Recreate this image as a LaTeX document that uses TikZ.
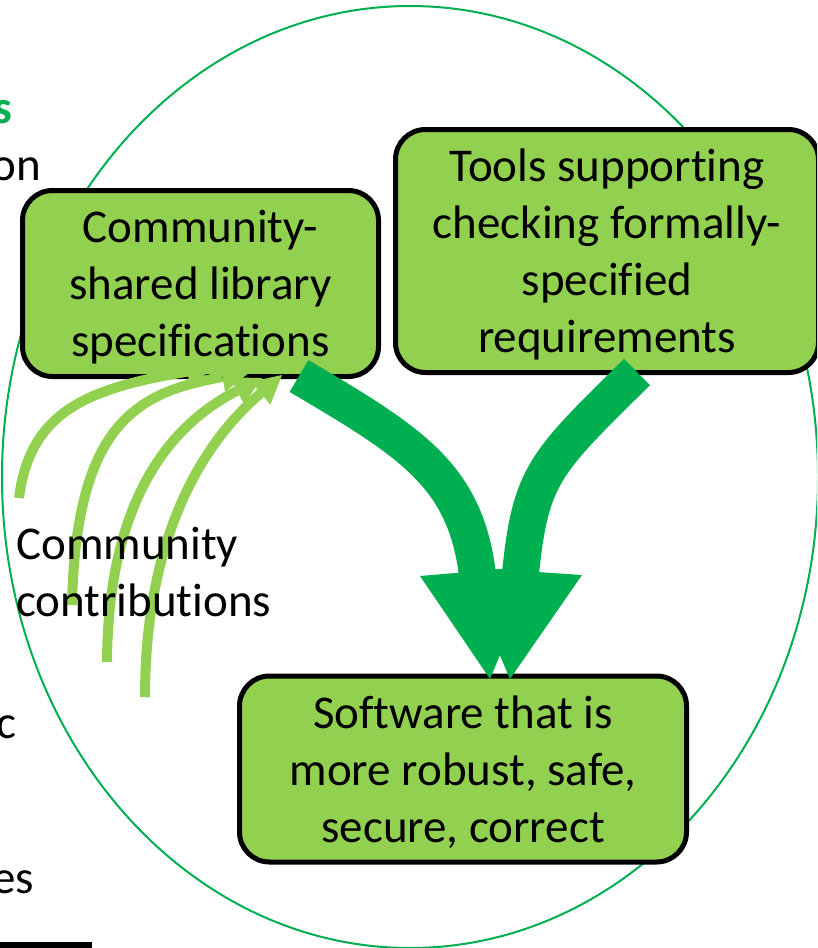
\documentclass[tikz,border=0pt]{standalone}
\usepackage{fontspec}
\setmainfont{Carlito}[Ligatures={NoCommon,NoContextual}]
\usetikzlibrary{arrows.meta}
\definecolor{lgreen}{HTML}{92D050}
\definecolor{dgreen}{HTML}{00B050}
\newcommand\mytopstrut{\rule{0pt}{52pt}}
\newcommand\mybotstrut{\rule[-20pt]{0pt}{20pt}}
\begin{document}
\begin{tikzpicture}[x=1pt,y=-1pt,
  box/.style={draw=black,line width=5pt,fill=lgreen,rounded corners=30pt,align=center,inner sep=0pt,font=\fontsize{47}{57}\selectfont},
  contrib/.style={draw=lgreen,line width=10pt,-{Triangle[width=30pt,length=28pt,line width=0pt]}},
  bigshaft/.style={draw=dgreen,line width=37pt},
  bighead/.style={fill=dgreen},
  txt/.style={font=\fontsize{47}{57}\selectfont,inner sep=0pt},
  ring/.style={draw=dgreen,line width=2pt}
]
\useasboundingbox (0,0) rectangle (817,948);
\clip (0,0) rectangle (817,948);

% ellipse
\draw[ring] (410,477) ellipse [x radius=408pt, y radius=471pt];

% boxes
\node[box,minimum width=356pt,minimum height=172pt] (lib) at (200.5,283.5) {\mytopstrut Community-\\shared library\\specifications\mybotstrut};
\node[box,minimum width=423pt,minimum height=237pt] (tools) at (607,251) {\mytopstrut Tools supporting\\checking formally-\\specified\\requirements\mybotstrut};
\node[box,minimum width=447pt,minimum height=173pt] (soft) at (463,769) {\mytopstrut Software that is\\more robust, safe,\\secure, correct\mybotstrut};

% community contribution arrows
\coordinate (a1) at (19,498);
\coordinate (a2) at (72,605);
\coordinate (a3) at (107,662);
\coordinate (a4) at (145,697);
\coordinate (t1) at (215,367);
\coordinate (t2) at (250,372);
\coordinate (t3) at (262,378);
\coordinate (t4) at (282,375);
\draw[contrib] (a1) .. controls (30,410) and (90,388) .. (t1);
\draw[contrib] (a2) .. controls (76,420) and (140,392) .. (t2);
\draw[contrib] (a3) .. controls (108,500) and (170,425) .. (t3);
\draw[contrib] (a4) .. controls (145,540) and (200,445) .. (t4);

\node[txt,anchor=north west,align=left] (cc) at (16,527) {Community\\contributions};

% big arrows
\coordinate (s1) at (299,376);
\coordinate (s2) at (637,372);
\coordinate (b1) at (477.4,574);
\coordinate (b2) at (520.5,573.5);
\draw[bigshaft] (s1) .. controls (411,442) and (465,475) .. (b1) -- ++(1.2,9.9);
\fill[bighead] (420,576) -- (490,679) -- (537,566) -- cycle;
\draw[bigshaft] (s2) .. controls (545,463) and (530.5,474) .. (b2) -- ++(-1,10);
\fill[bighead] (462,567) -- (510,679) -- (582,575) -- cycle;

% fragments of text at the left edge
\node[txt,anchor=base east,text=dgreen,font=\fontsize{47}{57}\selectfont\bfseries] (f1) at (12,123) {s};
\node[txt,anchor=base east] (f2) at (41,180) {on};
\node[txt,anchor=base east] (f3) at (17,738) {c};
\node[txt,anchor=base east] (f4) at (34,893) {es};
\fill (0,942) rectangle (92,950);
\end{tikzpicture}
\end{document}
